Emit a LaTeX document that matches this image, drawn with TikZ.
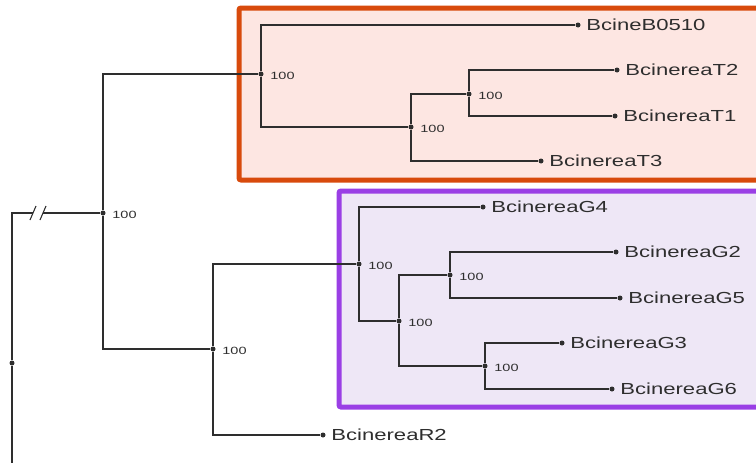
\documentclass[tikz,border=0pt]{standalone}
\usepackage{fontspec}
\newfontfamily\taxonfont[FakeStretch=1.38]{Liberation Sans}
\definecolor{cladeorange}{HTML}{D84A0C}
\definecolor{cladepink}{HTML}{FDE6E2}
\definecolor{cladepurple}{HTML}{9A3FE5}
\definecolor{cladelilac}{HTML}{EEE7F6}
\definecolor{treegray}{HTML}{2E2E2E}
\begin{document}
\begin{tikzpicture}[x=1pt,y=-1pt,
    branch/.style = {line width=1.1pt, draw=treegray},
    tip/.style = {circle, fill=treegray, inner sep=0pt, minimum size=5pt},
    taxon/.style = {inner sep=0pt, label distance=5.5pt, text=treegray,
        font=\taxonfont\fontsize{16}{16}\selectfont},
    support/.style = {inner sep=0pt, label distance=6.5pt, yshift=-2pt, text=treegray,
        font=\taxonfont\fontsize{10.5}{10.5}\selectfont},
    clade/.style = {line width=5pt, rounded corners=2pt}]
                \useasboundingbox (0,0) rectangle (756,463);
                % clade boxes
                \draw[clade, draw=cladeorange, fill=cladepink]
                    (239,8) rectangle (766,180);
                \draw[clade, draw=cladepurple, fill=cladelilac]
                    (339,191) rectangle (766,407);

                % internal nodes
                \node[tip, label={[support]right:100}] (nA) at (103,213) {};
                \node[tip, label={[support]right:100}] (nB) at (261,74) {};
                \node[tip, label={[support]right:100}] (nC) at (411,127) {};
                \node[tip, label={[support]right:100}] (nD) at (469,94) {};
                \node[tip, label={[support]right:100}] (nE) at (213,349) {};
                \node[tip, label={[support]right:100}] (nF) at (359,264) {};
                \node[tip, label={[support]right:100}] (nG) at (399,321) {};
                \node[tip, label={[support]right:100}] (nH) at (450,275) {};
                \node[tip, label={[support]right:100}] (nI) at (485,366) {};
                \node[tip] (root) at (12,363) {};

                % leaves
                \node[tip, label={[taxon]right:BcineB0510}] (b0510) at (578,25) {};
                \node[tip, label={[taxon]right:BcinereaT2}] (t2) at (617,70) {};
                \node[tip, label={[taxon]right:BcinereaT1}] (t1) at (615,116) {};
                \node[tip, label={[taxon]right:BcinereaT3}] (t3) at (541,161) {};
                \node[tip, label={[taxon]right:BcinereaG4}] (g4) at (483,207) {};
                \node[tip, label={[taxon]right:BcinereaG2}] (g2) at (616,252) {};
                \node[tip, label={[taxon]right:BcinereaG5}] (g5) at (620,298) {};
                \node[tip, label={[taxon]right:BcinereaG3}] (g3) at (562,343) {};
                \node[tip, label={[taxon]right:BcinereaG6}] (g6) at (612,389) {};
                \node[tip, label={[taxon]right:BcinereaR2}] (r2) at (323,435) {};

                % branches
                \draw[branch] (nA) |- (nB);
                \draw[branch] (nA) |- (nE);
                \draw[branch] (nB) |- (b0510);
                \draw[branch] (nB) |- (nC);
                \draw[branch] (nC) |- (nD);
                \draw[branch] (nC) |- (t3);
                \draw[branch] (nD) |- (t2);
                \draw[branch] (nD) |- (t1);
                \draw[branch] (nE) |- (nF);
                \draw[branch] (nE) |- (r2);
                \draw[branch] (nF) |- (g4);
                \draw[branch] (nF) |- (nG);
                \draw[branch] (nG) |- (nH);
                \draw[branch] (nG) |- (nI);
                \draw[branch] (nH) |- (g2);
                \draw[branch] (nH) |- (g5);
                \draw[branch] (nI) |- (g3);
                \draw[branch] (nI) |- (g6);

                % root with broken branch
                \coordinate (rtop) at (12,213);
                \coordinate (rend) at (12,463);
                \coordinate (brk1) at (33,213);
                \coordinate (brk2) at (43,213);
                \draw[branch] (rend) -- (root) -- (rtop) -- (brk1);
                \draw[branch] (brk2) -- (nA);
                \draw[branch] ([shift={(-3,7)}]brk1) -- ([shift={(3,-7)}]brk1);
                \draw[branch] ([shift={(-3,7)}]brk2) -- ([shift={(3,-7)}]brk2);
\end{tikzpicture}
\end{document}
